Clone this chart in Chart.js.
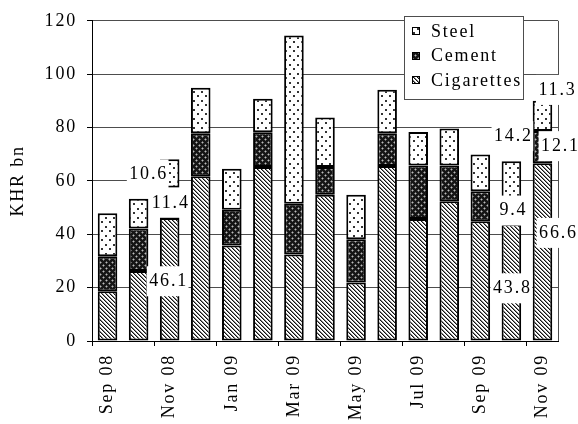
<!DOCTYPE html>
<html>
<head>
<meta charset="utf-8">
<script src="https://cdn.jsdelivr.net/npm/chart.js@4.4.1/dist/chart.umd.min.js"></script>
<style>
  html, body { margin: 0; padding: 0; background: #fff; }
  canvas { display: block; }
</style>
</head>
<body>
<canvas id="chart" width="578" height="424"></canvas>
<script>
// data (KHR bn)
const months = ['Sep 08', 'Oct 08', 'Nov 08', 'Dec 08', 'Jan 09', 'Feb 09', 'Mar 09', 'Apr 09',
                'May 09', 'Jun 09', 'Jul 09', 'Aug 09', 'Sep 09', 'Oct 09', 'Nov 09'];
const cigarettes = [18.6, 26.2, 46.1, 61.7, 35.8, 65.2, 32.4, 54.8, 21.9, 65.6, 45.7, 52.4, 44.9, 43.8, 66.6];
const cement     = [13.2, 16.0, 11.4, 16.2, 13.4, 13.0, 19.0, 10.4, 16.2, 12.3, 20.1, 13.4, 11.2,  9.4, 12.1];
const steel      = [16.1, 11.1, 10.6, 17.0, 15.4, 12.6, 63.1, 18.6, 16.7, 16.3, 12.5, 13.8, 13.8, 14.2, 11.3];
const yMin = 0, yMax = 120, yStep = 20;
const labelledMonths = ['Nov 08', 'Oct 09', 'Nov 09'];

// label nudges in pixels (cigarettes, cement, steel)
const labelShift = {
  'Nov 08': [[-2, 1], [0, -1], [-22, 0]],
  'Oct 09': [[0, 5], [1, -2], [1, -45]],
  'Nov 09': [[15, -20], [17, -2], [14, -27]]
};

const FONT = "'Liberation Serif', 'Times New Roman', serif";
const SPACING = '1.8px';
const GRID = '#4d4d4d';

function makePattern(kind) {
  const c = document.createElement('canvas');
  const g = c.getContext('2d');
  if (kind === 'stripes') {
    c.width = c.height = 4;
    g.fillStyle = '#fff'; g.fillRect(0, 0, 4, 4);
    for (let i = 0; i < 4; i++) {
      g.fillStyle = '#111'; g.fillRect(i, i, 1, 1);
      g.fillStyle = '#888'; g.fillRect((i + 1) % 4, i, 1, 1);
    }
  } else if (kind === 'dots') {
    c.width = 8; c.height = 9;
    g.fillStyle = '#fff'; g.fillRect(0, 0, 8, 9);
    g.fillStyle = '#333';
    g.fillRect(1, 1, 2, 2);
    g.fillRect(5, 5, 2, 2);
  } else {
    c.width = c.height = 6;
    g.fillStyle = '#151515'; g.fillRect(0, 0, 6, 6);
    [[1, 1], [4, 4]].forEach(([x, y]) => {
      g.fillStyle = '#666';
      g.fillRect(x - 1, y, 3, 1); g.fillRect(x, y - 1, 1, 3);
      g.fillStyle = '#bbb'; g.fillRect(x, y, 1, 1);
    });
  }
  return g.createPattern(c, 'repeat');
}

const fills = { Cigarettes: makePattern('stripes'), Cement: makePattern('cross'), Steel: makePattern('dots') };

const spacing = {
  id: 'spacing',
  beforeUpdate(chart) { chart.ctx.letterSpacing = SPACING; },
  beforeDraw(chart) { chart.ctx.letterSpacing = SPACING; }
};

const overlay = {
  id: 'overlay',
  beforeDatasetsDraw(chart) {
    // right edge of the plot area
    const { ctx, chartArea } = chart;
    const x = Math.round(chartArea.right) + 0.5;
    ctx.save();
    ctx.strokeStyle = GRID;
    ctx.lineWidth = 1;
    ctx.beginPath();
    ctx.moveTo(x, chartArea.top);
    ctx.lineTo(x, chartArea.bottom);
    ctx.stroke();
    ctx.restore();
  },
  afterDatasetsDraw(chart) {
    const { ctx } = chart;
    ctx.save();
    ctx.font = `18px ${FONT}`;
    ctx.letterSpacing = SPACING;
    ctx.textAlign = 'center';
    ctx.textBaseline = 'middle';
    labelledMonths.forEach(m => {
      const i = months.indexOf(m);
      chart.data.datasets.forEach((ds, d) => {
        const el = chart.getDatasetMeta(d).data[i];
        const [dx, dy] = labelShift[m][d];
        const x = el.x + dx, y = (el.y + el.base) / 2 + dy;
        const txt = ds.data[i].toFixed(1);
        const w = ctx.measureText(txt).width + 3;
        ctx.fillStyle = '#fff';
        ctx.fillRect(x - w / 2, y - 14, w, 30);
        ctx.fillStyle = '#000';
        ctx.fillText(txt, x + 1, y + 1);
      });
    });
    ctx.restore();
  },
  afterDraw(chart) {
    // legend box inside the plot, top right
    const { ctx } = chart;
    const bx = 404.5, by = 16.5, bw = 119, bh = 83;
    ctx.save();
    ctx.fillStyle = '#fff';
    ctx.fillRect(bx, by, bw, bh);
    ctx.strokeStyle = GRID;
    ctx.lineWidth = 1;
    ctx.strokeRect(bx, by, bw, bh);
    ctx.font = `18px ${FONT}`;
    ctx.letterSpacing = SPACING;
    ctx.textAlign = 'left';
    ctx.textBaseline = 'middle';
    const items = [...chart.data.datasets].reverse();
    items.forEach((ds, k) => {
      const y = 31 + k * 24.5;
      ctx.fillStyle = ds.backgroundColor;
      ctx.fillRect(412, Math.round(y) - 4, 8, 8);
      ctx.strokeStyle = '#000';
      ctx.strokeRect(412.5, Math.round(y) - 3.5, 7, 7);
      ctx.fillStyle = '#000';
      ctx.fillText(ds.label, 431, y + 1);
    });
    ctx.restore();
  }
};

const series = [
  { label: 'Cigarettes', data: cigarettes },
  { label: 'Cement', data: cement },
  { label: 'Steel', data: steel }
];

new Chart(document.getElementById('chart'), {
  type: 'bar',
  data: {
    labels: months,
    datasets: series.map(s => ({
      label: s.label,
      data: s.data,
      backgroundColor: fills[s.label],
      borderColor: '#000',
      borderWidth: 2,
      borderSkipped: false,
      barPercentage: 0.63,
      categoryPercentage: 1
    }))
  },
  options: {
    responsive: false,
    animation: false,
    layout: { padding: { top: 16, right: 20, left: 0, bottom: 0 } },
    plugins: { legend: { display: false }, tooltip: { enabled: false } },
    scales: {
      x: {
        stacked: true,
        offset: true,
        grid: {
          offset: true,
          drawOnChartArea: false,
          tickLength: 5,
          tickColor: ctx => ctx.index % 2 === 0 ? '#000' : 'rgba(0,0,0,0)'
        },
        border: { color: '#000', width: 1 },
        ticks: {
          autoSkip: false,
          minRotation: 90,
          maxRotation: 90,
          padding: 8,
          color: '#000',
          font: { family: FONT, size: 18 },
          callback: (v, i) => i % 2 === 0 ? months[i] : ''
        },
        afterFit: s => { s.height = 83; }
      },
      y: {
        stacked: true,
        min: yMin,
        max: yMax,
        grid: { color: GRID, tickLength: 5, tickColor: '#000' },
        border: { color: '#000', width: 1 },
        ticks: { stepSize: yStep, padding: 10, color: '#000', font: { family: FONT, size: 18 } },
        title: { display: true, text: 'KHR bn', color: '#000', font: { family: FONT, size: 18 }, padding: { top: 7, bottom: 0 } },
        afterFit: s => { s.width = 92; }
      }
    }
  },
  plugins: [spacing, overlay]
});
</script>
</body>
</html>
